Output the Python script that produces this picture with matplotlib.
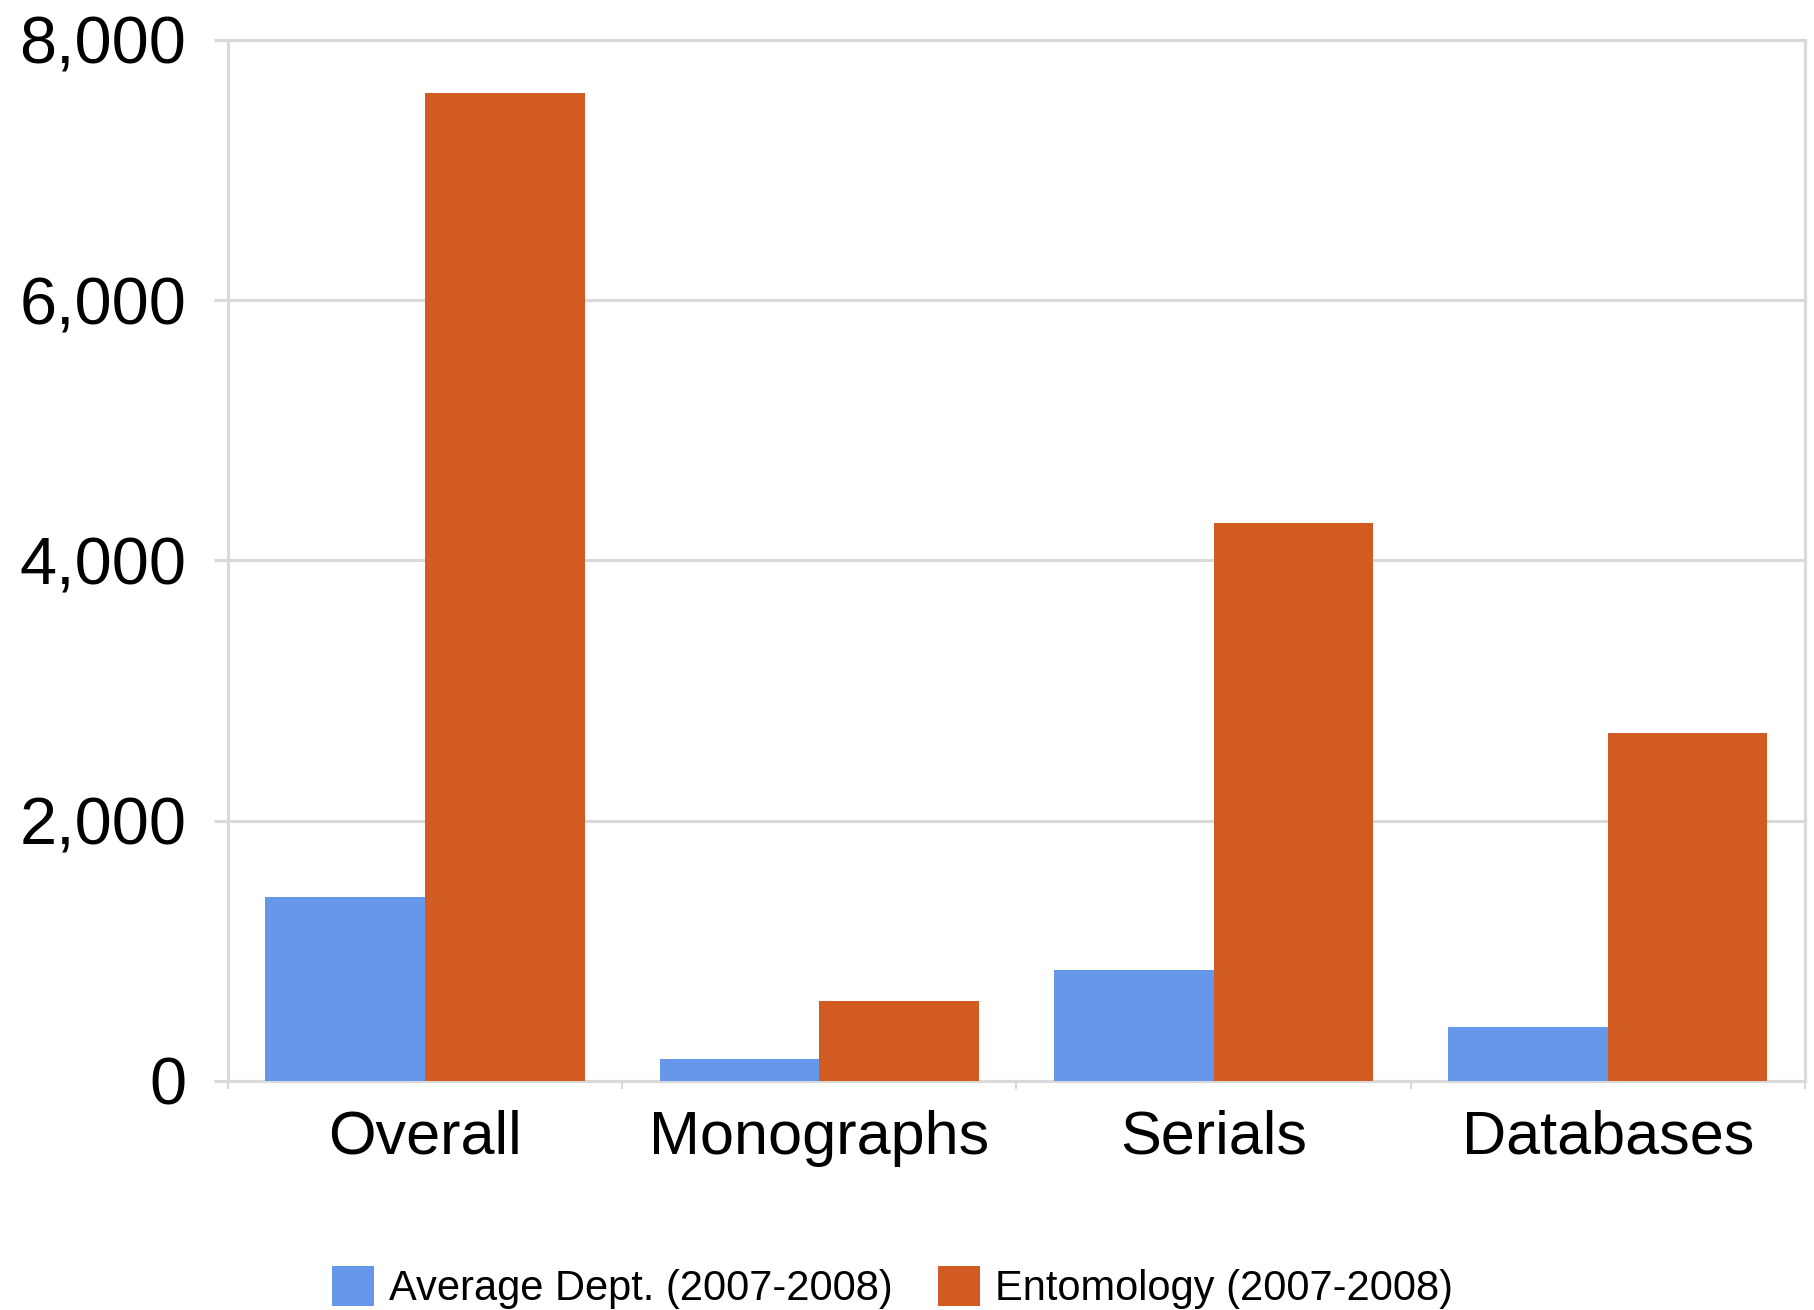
import numpy as np
import matplotlib
matplotlib.use("Agg")
import matplotlib.pyplot as plt
from matplotlib.ticker import FuncFormatter

plt.rcParams['font.family'] = ['Liberation Sans', 'DejaVu Sans']

# data
categories = ['Overall', 'Monographs', 'Serials', 'Databases']
avg_dept = [1410, 170, 850, 410]
entomology = [7590, 610, 4290, 2670]
series_names = ['Average Dept. (2007-2008)', 'Entomology (2007-2008)']
y_ticks = [0, 2000, 4000, 6000, 8000]

blue = '#6797e8'
orange = '#d15b20'
grid_col = '#d9d9d9'

fig = plt.figure(figsize=(18.14, 13.10), dpi=100)
ax = fig.add_axes([0.1257, 0.175, 0.995 - 0.1257, 0.9695 - 0.175])

x = np.arange(len(categories))
w = 0.405
ax.bar(x - w / 2, avg_dept, w, color=blue, label=series_names[0], zorder=3)
ax.bar(x + w / 2, entomology, w, color=orange, label=series_names[1], zorder=3)

ax.set_xlim(-0.5, len(categories) - 0.5)
ax.set_ylim(0, 8000)
ax.set_yticks(y_ticks)
ax.yaxis.set_major_formatter(FuncFormatter(lambda v, p: f'{int(v):,}'))
ax.grid(axis='y', color=grid_col, linewidth=2.2, zorder=0)
ax.set_axisbelow(True)

ax.set_xticks(x)
ax.set_xticklabels(categories)
ax.set_xticks(np.arange(-0.5, len(categories)), minor=True)
ax.tick_params(axis='x', which='major', length=0, labelsize=44, pad=21)
ax.tick_params(axis='x', which='minor', length=6, width=1.5, color=grid_col)
ax.tick_params(axis='y', length=10, width=2.2, color=grid_col, labelsize=48, pad=20)

for s in ax.spines.values():
    s.set_color(grid_col)
    s.set_linewidth(2.2)

fig.legend(loc='center', bbox_to_anchor=(0.492, 0.017), ncol=2, frameon=False,
           fontsize=30, handlelength=1.0, handleheight=1.1,
           handletextpad=0.36, columnspacing=1.1, borderpad=0)

fig.savefig('out.png', dpi=100)
